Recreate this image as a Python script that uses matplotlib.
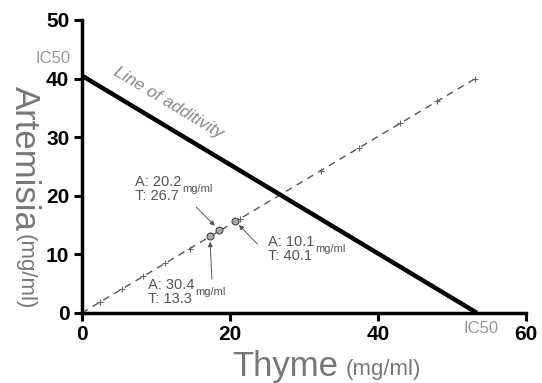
import matplotlib
matplotlib.use('Agg')
from matplotlib import pyplot as plt
import numpy as np

plt.rcParams['font.family'] = ['Liberation Sans', 'DejaVu Sans']

# isobologram data (mg/ml)
ic50_thyme = 53.4
ic50_artemisia = 40.5
additivity_x = [0, ic50_thyme]
additivity_y = [ic50_artemisia, 0]
ratio_x = [0, 53.2]
ratio_y = [0, 40.0]
ratio_ticks_x = [2.5, 5.4, 8.3, 11.3, 14.6, 21.4, 32.3, 37.5, 43.0, 48.0, 53.2]
combo_thyme = [17.3, 18.5, 20.7]
combo_artemisia = [13.1, 14.2, 15.7]
combo_labels = [("A: 30.4", "T: 13.3"), ("A: 20.2", "T: 26.7"), ("A: 10.1", "T: 40.1")]
label_pos = [(9.0, 3.6), (7.2, 21.2), (25.2, 10.9)]
arrow_from = [(17.6, 5.3), (15.2, 18.4), (24.0, 11.4)]
xticks = [0, 20, 40, 60]
yticks = [0, 10, 20, 30, 40, 50]

fig = plt.figure(figsize=(5.42, 3.83), dpi=100)
ax = fig.add_axes([0.151, 0.183, 0.819, 0.765])

ax.plot(additivity_x, additivity_y, color='black', lw=3.2, solid_capstyle='butt', zorder=3)
ax.plot(ratio_x, ratio_y, color='#555555', lw=1.0, ls=(0, (5, 4)), zorder=2)
slope = ratio_y[1] / ratio_x[1]
tx = np.array(ratio_ticks_x)
ax.plot(tx, tx * slope, ls='none', marker='+', ms=5, mew=0.8, color='#666666', zorder=2)
ax.plot(combo_thyme, combo_artemisia, ls='none', marker='o', ms=5, mfc='#aaaaaa',
        mec='#444444', mew=0.8, zorder=4)

gray = '#555555'
for (a, t), (lx, ly), (fx, fy), px, py in zip(combo_labels, label_pos, arrow_from,
                                              combo_thyme, combo_artemisia):
    ax.text(lx, ly, a + "\n" + t, fontsize=10.5, color=gray, ha='left', va='center',
            linespacing=1.0)
    ax.text(lx + 6.4, ly, "mg/ml", fontsize=8, color=gray, ha='left', va='center')
    ax.annotate("", xy=(px, py), xytext=(fx, fy),
                arrowprops=dict(arrowstyle='-|>', color=gray, lw=0.7, mutation_scale=7,
                                shrinkB=4))

ax.text(4.0, 40.3, "Line of additivity", fontsize=12.5, style='italic', color='#888888',
        rotation=-31, rotation_mode='anchor', ha='left', va='bottom')
ax.text(-6.3, 43.5, "IC50", fontsize=12, color='#999999', ha='left', va='center',
        clip_on=False)
ax.text(54.0, -2.6, "IC50", fontsize=12, color='#999999', ha='center',
        va='center', clip_on=False)

ax.set_xlim(0, 60)
ax.set_ylim(0, 50)
ax.set_xticks(xticks)
ax.set_yticks(yticks)
for s in ['top', 'right']:
    ax.spines[s].set_visible(False)
for s in ['left', 'bottom']:
    ax.spines[s].set_linewidth(2.5)
ax.tick_params(width=2.2, length=6, labelsize=15, pad=3)
for lab in ax.get_xticklabels() + ax.get_yticklabels():
    lab.set_fontweight('bold')

fig.text(0.428, 0.0, "Thyme", fontsize=25, color='#777777', ha='left', va='bottom')
fig.text(0.637, 0.008, "(mg/ml)", fontsize=16, color='#777777', ha='left', va='bottom')
fig.text(0.046, 0.775, "Artemisia", fontsize=25, color='#777777', rotation=-90,
         ha='center', va='top')
fig.text(0.046, 0.39, "(mg/ml)", fontsize=16, color='#777777', rotation=-90,
         ha='center', va='top')

fig.savefig('out.png', dpi=100)
